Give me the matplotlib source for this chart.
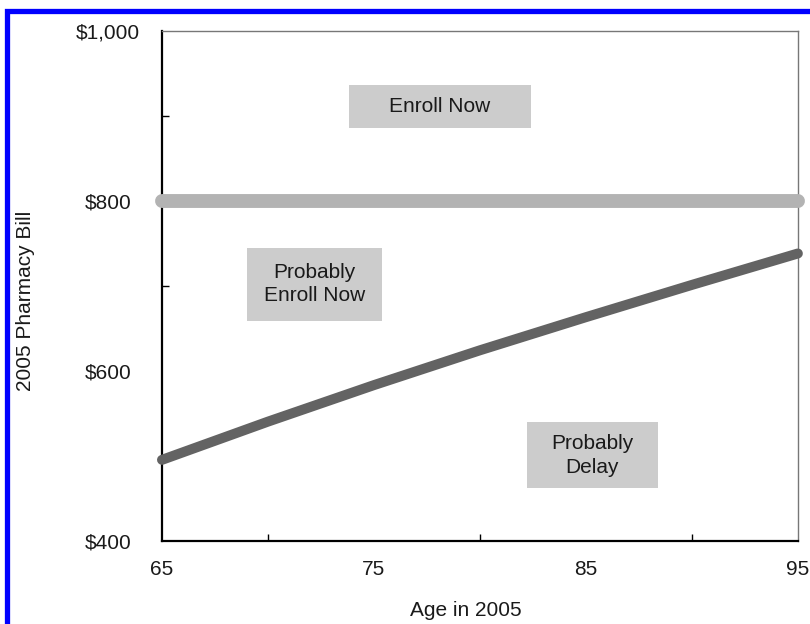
import matplotlib.pyplot as plt
from matplotlib.patches import Rectangle
from matplotlib.ticker import FixedLocator, NullFormatter

plt.rcParams['font.family'] = ['Liberation Sans', 'DejaVu Sans']

# decision thresholds by age
ages = [65, 70, 75, 80, 85, 90, 95]
breakeven_bill = [495, 540, 583, 624, 663, 701, 738]
enroll_bill = 800

# region labels: text, x-range (age), y-range ($)
regions = [
    ("Enroll Now", (73.8, 82.4), (886, 937)),
    ("Probably\nEnroll Now", (69.0, 75.4), (659, 745)),
    ("Probably\nDelay", (82.2, 88.4), (462, 539)),
]

xticks = [65, 75, 85, 95]
xminor = [70, 80, 90]
yticks = [400, 600, 800, 1000]
yminor = [500, 700, 900]
ylabels = ["$400", "$600", "$800", "$1,000"]

fs = 15
txt = "#1a1a1a"

fig = plt.figure(figsize=(8.1, 6.24), dpi=100)
ax = fig.add_axes([0.2, 0.1338, 0.785, 0.8165])

ax.plot([ages[0], ages[-1]], [enroll_bill, enroll_bill], color="#b3b3b3",
        lw=10, solid_capstyle="round", clip_on=False, zorder=3)
ax.plot(ages, breakeven_bill, color="#636363", lw=7.2,
        solid_capstyle="round", solid_joinstyle="round", clip_on=False, zorder=3)

for text, (x0, x1), (y0, y1) in regions:
    ax.add_patch(Rectangle((x0, y0), x1 - x0, y1 - y0, facecolor="#cccccc",
                           edgecolor="none", zorder=2))
    ax.text((x0 + x1) / 2, (y0 + y1) / 2, text, ha="center", va="center",
            fontsize=fs, color=txt, linespacing=1.32, zorder=4)

ax.set_xlim(65, 95)
ax.set_ylim(400, 1000)
ax.set_xticks(xticks)
ax.set_xticklabels([str(t) for t in xticks])
ax.set_yticks(yticks)
ax.set_yticklabels(ylabels, ha="center")
ax.xaxis.set_minor_locator(FixedLocator(xminor))
ax.yaxis.set_minor_locator(FixedLocator(yminor))
ax.xaxis.set_minor_formatter(NullFormatter())
ax.yaxis.set_minor_formatter(NullFormatter())
ax.tick_params(which="major", length=0, labelsize=fs, colors=txt)
ax.tick_params(axis="x", which="major", pad=14)
ax.tick_params(axis="y", which="major", pad=39)
ax.tick_params(which="minor", direction="in", length=5, width=1, color="black")

for side in ["top", "right"]:
    ax.spines[side].set_color("#777777")
    ax.spines[side].set_linewidth(1)
for side in ["left", "bottom"]:
    ax.spines[side].set_color("black")
    ax.spines[side].set_linewidth(1.6)

ax.set_xlabel("Age in 2005", fontsize=fs, color=txt)
ax.set_ylabel("2005 Pharmacy Bill", fontsize=fs, color=txt)
ax.xaxis.label.set_va("center")
ax.yaxis.label.set_va("center")
ax.xaxis.set_label_coords(0.478, -0.138)
ax.yaxis.set_label_coords(-0.214, 0.47)

# blue frame around the figure
fig.patches.append(Rectangle((0.0085, -0.1), 1.2, 1.0816, transform=fig.transFigure,
                             fill=False, edgecolor="#0000ff", lw=3.8))

fig.savefig("out.png", dpi=100)
